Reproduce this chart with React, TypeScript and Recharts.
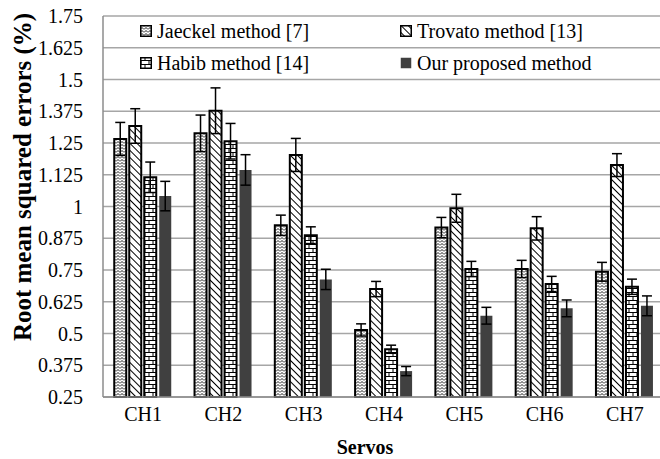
import React from 'react';
import { BarChart, Bar, XAxis, YAxis, CartesianGrid, ErrorBar, Label } from 'recharts';

const categories = ['CH1', 'CH2', 'CH3', 'CH4', 'CH5', 'CH6', 'CH7'];
const jaeckel = [1.266, 1.288, 0.926, 0.514, 0.917, 0.754, 0.743];
const jaeckelErr = [0.065, 0.072, 0.04, 0.024, 0.04, 0.034, 0.037];
const trovato = [1.317, 1.377, 1.203, 0.675, 0.993, 0.914, 1.163];
const trovatoErr = [0.068, 0.09, 0.065, 0.03, 0.055, 0.046, 0.045];
const habib = [1.115, 1.257, 0.887, 0.438, 0.754, 0.695, 0.684];
const habibErr = [0.06, 0.07, 0.033, 0.016, 0.03, 0.03, 0.03];
const ours = [1.041, 1.144, 0.713, 0.352, 0.57, 0.599, 0.609];
const oursErr = [0.058, 0.06, 0.04, 0.018, 0.033, 0.033, 0.039];
const yTicks = [0.25, 0.375, 0.5, 0.625, 0.75, 0.875, 1, 1.125, 1.25, 1.375, 1.5, 1.625, 1.75];

const seriesNames = ['Jaeckel method [7]', 'Trovato method [13]', 'Habib method [14]', 'Our proposed method'];

const data = categories.map((name, i) => ({
  name,
  jaeckel: jaeckel[i], jaeckelErr: jaeckelErr[i],
  trovato: trovato[i], trovatoErr: trovatoErr[i],
  habib: habib[i], habibErr: habibErr[i],
  ours: ours[i], oursErr: oursErr[i],
}));

const FONT = "Liberation Serif, Times New Roman, serif";

const fills = ['url(#patZig)', 'url(#patDiag)', 'url(#patBrick)', '#404040'];

const LegendBox = () => {
  const pos = [
    { l: 140, t: 31 },
    { l: 400, t: 31 },
    { l: 140, t: 63 },
    { l: 400, t: 63 },
  ];
  return (
    <svg width={660} height={90} style={{ position: 'absolute', left: 0, top: 0, pointerEvents: 'none' }}>
      {seriesNames.map((n, i) => (
        <g key={n}>
          <rect x={pos[i].l + 0.75} y={pos[i].t - 5.25} width={10.5} height={10.5} fill={fills[i]} stroke={i < 3 ? '#000' : 'none'} strokeWidth={1.5} />
          <text x={pos[i].l + 17} y={pos[i].t} dominantBaseline="central" fontFamily={FONT} fontSize={20} fill="#000">{n}</text>
        </g>
      ))}
    </svg>
  );
};

export default function App() {
  return (
    <div style={{ position: 'fixed', left: 0, top: 0, width: 660, height: 459, overflow: 'hidden', background: '#fff' }}>
      <BarChart width={670} height={459} data={data} margin={{ top: 16, right: 5, bottom: 0, left: 0 }} barCategoryGap="14%" barGap={3}>
        <defs>
          <pattern id="patZig" width={4} height={3} patternUnits="userSpaceOnUse">
            <rect width={4} height={3} fill="#fff" />
            <path d="M0 2.5 L2 0.5 L4 2.5" fill="none" stroke="#000" strokeWidth={0.9} />
          </pattern>
          <pattern id="patDiag" width={5} height={5} patternUnits="userSpaceOnUse" patternTransform="rotate(-45)">
            <rect width={5} height={5} fill="#fff" />
            <line x1={0} y1={0} x2={0} y2={5} stroke="#000" strokeWidth={2} />
          </pattern>
          <pattern id="patBrick" width={8} height={8} patternUnits="userSpaceOnUse">
            <rect width={8} height={8} fill="#fff" />
            <path d="M0 0.5 H8 M0 4.5 H8 M1 0.5 V4.5 M5 4.5 V8.5" fill="none" stroke="#000" strokeWidth={1} />
          </pattern>
        </defs>
        <CartesianGrid vertical={false} stroke="#a6a6a6" strokeWidth={1.5} />
        <XAxis dataKey="name" height={62} tickSize={0} tickMargin={10} axisLine={{ stroke: '#8c8c8c', strokeWidth: 1.5 }}
          tick={{ fontFamily: FONT, fontSize: 20, fill: '#000' }}>
          <Label content={() => (
            <text x={365} y={447} textAnchor="middle" dominantBaseline="central" fontFamily={FONT} fontSize={20} fontWeight="bold" fill="#000">Servos</text>
          )} />
        </XAxis>
        <YAxis type="number" domain={[0.25, 1.75]} ticks={yTicks} interval={0} width={103} tickSize={0} tickMargin={20}
          axisLine={{ stroke: '#8c8c8c', strokeWidth: 1.5 }} tick={{ fontFamily: FONT, fontSize: 20, fill: '#000' }}
          tickFormatter={(v: number) => String(v)}>
          <Label content={() => (
            <text x={22} y={177} transform="rotate(-90 22 177)" textAnchor="middle" dominantBaseline="central" fontFamily={FONT} fontSize={25} fontWeight="bold" fill="#000">Root mean squared errors (%)</text>
          )} />
        </YAxis>
        <Bar dataKey="jaeckel" name={seriesNames[0]} fill={fills[0]} stroke="#000" strokeWidth={2} isAnimationActive={false}>
          <ErrorBar dataKey="jaeckelErr" width={5} stroke="#000" strokeWidth={1.5} />
        </Bar>
        <Bar dataKey="trovato" name={seriesNames[1]} fill={fills[1]} stroke="#000" strokeWidth={2} isAnimationActive={false}>
          <ErrorBar dataKey="trovatoErr" width={5} stroke="#000" strokeWidth={1.5} />
        </Bar>
        <Bar dataKey="habib" name={seriesNames[2]} fill={fills[2]} stroke="#000" strokeWidth={2} isAnimationActive={false}>
          <ErrorBar dataKey="habibErr" width={5} stroke="#000" strokeWidth={1.5} />
        </Bar>
        <Bar dataKey="ours" name={seriesNames[3]} fill={fills[3]} isAnimationActive={false}>
          <ErrorBar dataKey="oursErr" width={5} stroke="#000" strokeWidth={1.5} />
        </Bar>
      </BarChart>
      <LegendBox />
    </div>
  );
}
